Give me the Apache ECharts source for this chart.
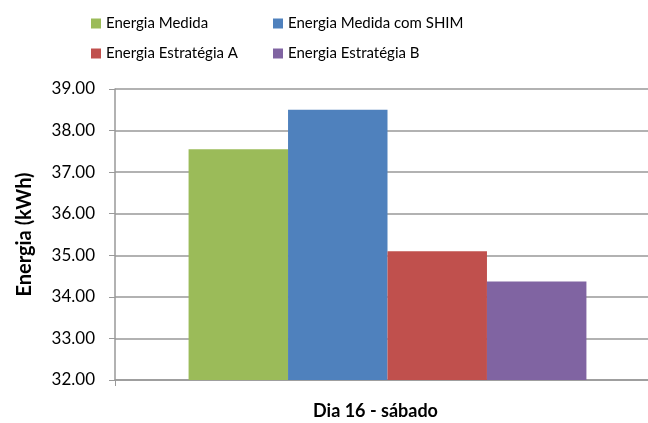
<!DOCTYPE html>
<html>
<head>
<meta charset="utf-8">
<script src="https://cdn.jsdelivr.net/npm/echarts@6/dist/echarts.min.js"></script>
<style>
  html, body { margin: 0; padding: 0; background: #fff; overflow: hidden; }
  #chart { width: 648px; height: 423px; }
</style>
</head>
<body>
<div id="chart"></div>
<script>
// Daily energy comparison for one day, four measurement / strategy series
const categories = ['Dia 16 - sábado'];
const seriesNames = [
  'Energia Medida',
  'Energia Medida com SHIM',
  'Energia Estratégia A',
  'Energia Estratégia B'
];
const energiaMedida = [37.55];
const energiaMedidaShim = [38.50];
const energiaEstrategiaA = [35.10];
const energiaEstrategiaB = [34.37];
const yTicks = [32, 33, 34, 35, 36, 37, 38, 39];

const colors = ['#9BBB59', '#4F81BD', '#C0504D', '#8064A2'];
const values = [energiaMedida, energiaMedidaShim, energiaEstrategiaA, energiaEstrategiaB];
const FONT = 'Lato, "Open Sans", sans-serif';

const el = document.getElementById('chart');
const chart = echarts.init(el, null, { renderer: 'canvas', width: 648, height: 423 });

const series = seriesNames.map((name, i) => ({
  name: name,
  type: 'bar',
  data: values[i],
  barGap: '0%',
  barCategoryGap: '27%',
  itemStyle: { color: colors[i] }
}));

const legendText = { fontFamily: FONT, fontSize: 15, color: '#000' };

chart.setOption({
  animation: false,
  textStyle: { fontFamily: FONT },
  legend: [
    {
      data: [seriesNames[0], seriesNames[2]],
      orient: 'vertical',
      left: 86, top: 11,
      itemWidth: 10, itemHeight: 10,
      itemGap: 15,
      icon: 'rect',
      textStyle: legendText,
      selectedMode: false
    },
    {
      data: [seriesNames[1], seriesNames[3]],
      orient: 'vertical',
      left: 268, top: 11,
      itemWidth: 10, itemHeight: 10,
      itemGap: 15,
      icon: 'rect',
      textStyle: legendText,
      selectedMode: false
    }
  ],
  grid: {
    left: 115, top: 89, width: 545, height: 291,
    containLabel: false,
    outerBoundsMode: 'none'
  },
  xAxis: {
    type: 'category',
    data: categories,
    name: categories[0],
    nameLocation: 'middle',
    nameGap: 22,
    nameTextStyle: { fontFamily: FONT, fontSize: 18, fontWeight: 'bold', color: '#000', padding: [0, 24, 0, 0] },
    axisLine: { lineStyle: { color: '#999', width: 1.5 } },
    axisTick: { show: true, length: 6, lineStyle: { color: '#999' } },
    axisLabel: { show: false }
  },
  yAxis: {
    type: 'value',
    min: yTicks[0],
    max: yTicks[yTicks.length - 1],
    interval: 1,
    name: 'Energia (kWh)',
    nameLocation: 'middle',
    nameGap: 80,
    nameTextStyle: { fontFamily: FONT, fontSize: 20, fontWeight: 'bold', color: '#000' },
    axisLine: { show: true, lineStyle: { color: '#999', width: 1.5 } },
    axisTick: { show: true, length: 6, lineStyle: { color: '#999' } },
    axisLabel: {
      fontFamily: FONT, fontSize: 17, color: '#000', margin: 20,
      formatter: v => v.toFixed(2)
    },
    splitLine: { show: true, lineStyle: { color: '#999', width: 1.5 } }
  },
  series: series
});
</script>
</body>
</html>
